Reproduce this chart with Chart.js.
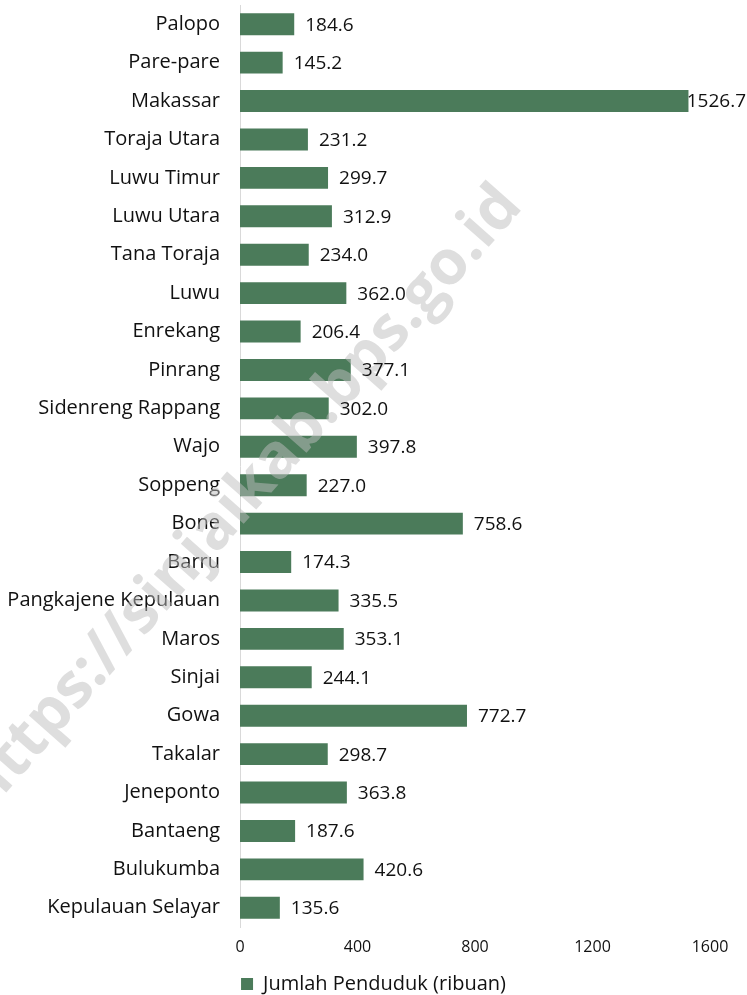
<!DOCTYPE html>
<html>
<head>
<meta charset="utf-8">
<script src="https://cdn.jsdelivr.net/npm/chart.js@4.4.1/dist/chart.umd.min.js"></script>
<style>
  html, body { margin: 0; padding: 0; background: #fff; }
  #wrap { width: 747px; height: 995px; position: relative; }
</style>
</head>
<body>
<div id="wrap"><canvas id="popChart" width="747" height="995"></canvas></div>
<script>
const regions = ["Palopo", "Pare-pare", "Makassar", "Toraja Utara", "Luwu Timur", "Luwu Utara",
  "Tana Toraja", "Luwu", "Enrekang", "Pinrang", "Sidenreng Rappang", "Wajo", "Soppeng", "Bone",
  "Barru", "Pangkajene Kepulauan", "Maros", "Sinjai", "Gowa", "Takalar", "Jeneponto", "Bantaeng",
  "Bulukumba", "Kepulauan Selayar"];
const population = [184.6, 145.2, 1526.7, 231.2, 299.7, 312.9, 234.0, 362.0, 206.4, 377.1, 302.0,
  397.8, 227.0, 758.6, 174.3, 335.5, 353.1, 244.1, 772.7, 298.7, 363.8, 187.6, 420.6, 135.6];
const xTicks = [0, 400, 800, 1200, 1600];
const seriesLabel = "Jumlah Penduduk (ribuan)";
const watermark = "https://sinjaikab.bps.go.id";

const barColor = "#4b7b5a";
const fontFamily = "'Open Sans', 'Noto Sans', sans-serif";

// value labels + watermark, drawn after the bars
const barLabels = {
  id: "barLabels",
  afterDatasetsDraw(chart) {
    const ctx = chart.ctx;
    ctx.save();
    ctx.translate(243, 498);
    ctx.rotate(-48.5 * Math.PI / 180);
    ctx.font = "bold 62px " + fontFamily;
    ctx.fillStyle = "rgba(190,190,190,0.5)";
    ctx.textAlign = "center";
    ctx.textBaseline = "middle";
    ctx.fillText(watermark, 0, 0);
    ctx.restore();

    ctx.save();
    ctx.font = "19px " + fontFamily;
    ctx.fillStyle = "#111";
    ctx.textBaseline = "middle";
    const meta = chart.getDatasetMeta(0);
    meta.data.forEach((bar, i) => {
      const txt = population[i].toFixed(1);
      const w = ctx.measureText(txt).width;
      let x = bar.x + 11;
      if (x + w > chart.width - 1) x = chart.width - 1 - w;
      ctx.fillText(txt, x, bar.y + 1);
    });
    ctx.restore();
  }
};

new Chart(document.getElementById("popChart"), {
  type: "bar",
  data: {
    labels: regions,
    datasets: [{
      label: seriesLabel,
      data: population,
      backgroundColor: barColor,
      borderWidth: 0,
      barPercentage: 0.57,
      categoryPercentage: 1
    }]
  },
  options: {
    indexAxis: "y",
    responsive: false,
    animation: false,
    layout: { padding: { top: 5, right: 0, left: 0, bottom: -9 } },
    plugins: {
      legend: {
        position: "bottom",
        labels: {
          boxWidth: 12,
          boxHeight: 12,
          padding: 2,
          color: "#111",
          font: { family: fontFamily, size: 20 }
        }
      },
      tooltip: { enabled: false }
    },
    scales: {
      x: {
        min: 0,
        max: 1600,
        afterBuildTicks: scale => { scale.ticks = xTicks.map(v => ({ value: v })); },
        afterFit: scale => {
          scale.height = 45;
          scale.paddingRight = 37;
        },
        grid: { display: false, drawTicks: false },
        border: { display: false },
        ticks: {
          padding: 11,
          color: "#111",
          font: { family: fontFamily, size: 16 },
          callback: v => String(v)
        }
      },
      y: {
        afterFit: scale => {
          scale.width = 240;
          scale.paddingTop = 0;
          scale.paddingBottom = 0;
        },
        grid: { display: false, drawTicks: false },
        border: { display: true, color: "#d9d9d9", width: 1 },
        ticks: {
          padding: 20,
          color: "#111",
          autoSkip: false,
          font: { family: fontFamily, size: 20 }
        }
      }
    }
  },
  plugins: [barLabels]
});
</script>
</body>
</html>
